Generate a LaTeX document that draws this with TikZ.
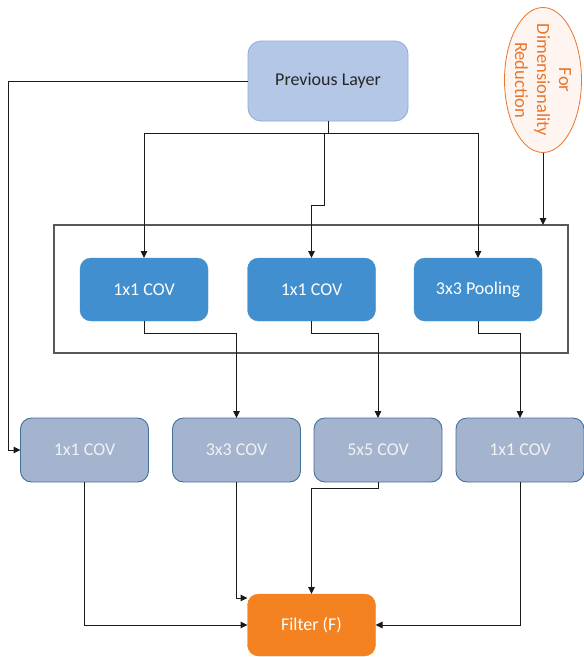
\documentclass[tikz,border=0pt]{standalone}
\usepackage{fontspec}
\setmainfont{Carlito}
\usetikzlibrary{arrows.meta,shapes.geometric,calc}
\definecolor{prevfill}{HTML}{B4C7E7}
\definecolor{prevdraw}{HTML}{8FAADC}
\definecolor{midfill}{HTML}{418FCE}
\definecolor{lowfill}{HTML}{A4B3CE}
\definecolor{lowdraw}{HTML}{41719C}
\definecolor{filtfill}{HTML}{F58220}
\definecolor{orangetxt}{HTML}{E8762D}
\definecolor{ellfill}{HTML}{FEF5F0}
\definecolor{linec}{HTML}{1A1A1A}
\definecolor{frame}{HTML}{595959}
\tikzset{
  boxbase/.style={rounded corners=11pt, minimum width=128pt, minimum height=64pt, inner sep=0pt, outer sep=0pt, font=\fontsize{18}{22}\selectfont},
  prevbox/.style={boxbase, fill=prevfill, draw=prevdraw, line width=0.8pt, text=black!85, rounded corners=13pt, minimum width=160pt, minimum height=80pt},
  midbox/.style={boxbase, fill=midfill, draw=midfill, text=white, minimum height=63pt},
  lowbox/.style={boxbase, fill=lowfill, draw=lowdraw, line width=0.9pt, text=white!95!black},
  filtbox/.style={boxbase, fill=filtfill, draw=filtfill, text=white, minimum height=62pt},
  conn/.style={draw=linec, line width=1pt},
  arr/.style={conn, -{Triangle[length=7pt,width=6.5pt]}},
}
\begin{document}
\begin{tikzpicture}[x=1pt,y=-1pt]
\useasboundingbox (0,0) rectangle (584,657);
\node[draw=frame, line width=1.2pt, minimum width=514pt, minimum height=128pt, inner sep=0pt, outer sep=0pt] (big) at (311,289) {};
\node[prevbox] (prev) at (328,81) {Previous Layer};
\node[ellipse, draw=orangetxt, fill=ellfill, line width=0.8pt, minimum width=77pt, minimum height=145pt, inner sep=0pt] (ell) at (543,80) {};
\node[rotate=-90, text=orangetxt, align=center, font=\fontsize{18.5}{22}\selectfont] (elltext) at (ell.center) {For\\Dimensionality\\Reduction};
\node[midbox] (m1) at (144,289.5) {1x1 COV};
\node[midbox] (m2) at (311.5,289.5) {1x1 COV};
\node[midbox] (m3) at (478,289.5) {3x3 Pooling};
\node[lowbox] (l1) at (84.5,450) {1x1 COV};
\node[lowbox] (l2) at (236.5,450) {3x3 COV};
\node[lowbox] (l3) at (378,450) {5x5 COV};
\node[lowbox] (l4) at (520,450) {1x1 COV};
\node[filtbox] (f) at (311.5,625) {Filter (F)};
% bus from previous layer
\coordinate (bus) at (328,133);
\coordinate (bus2) at (324,133);
\coordinate (lft) at (8,81);
\draw[conn] (prev.south) -- (bus);
\draw[arr] (bus) -| (m1.north);
\draw[arr] (bus) -| (m3.north);
\draw[arr] (bus2) -- ++(0,72) -| (m2.north);
\draw[arr] (prev.west) -- (lft) |- (l1.west);
\draw[arr] (ell.south) -- (ell.south |- big.north);
% middle to lower
\draw[arr] (m1.south) -- ++(0,12) -| (l2.north);
\draw[arr] (m2.south) -- ++(0,12) -| (l3.north);
\draw[arr] (m3.south) -- ++(0,12) -| (l4.north);
% lower to filter
\draw[arr] (l1.south) |- (f.west);
\draw[arr] (l2.south) |- ($(f.west)+(0,-27)$);
\draw[arr] (l3.south) -- ++(0,6) -| (f.north);
\draw[arr] (l4.south) |- (f.east);
\end{tikzpicture}
\end{document}
